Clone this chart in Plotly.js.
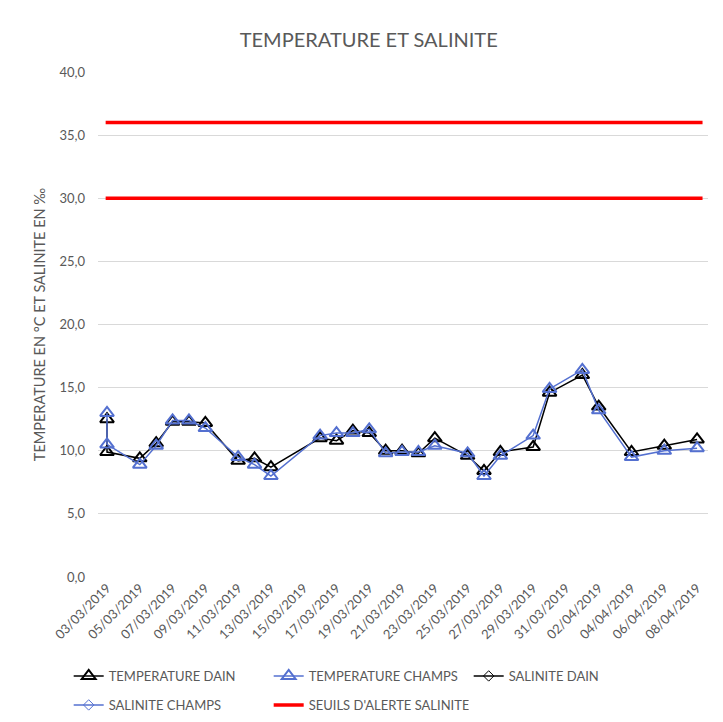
<!DOCTYPE html>
<html>
<head>
<meta charset="utf-8">
<script src="https://cdn.plot.ly/plotly-3.0.1.min.js"></script>
<style>html,body{margin:0;padding:0;background:#fff;}#chart{width:723px;height:722px;}</style>
</head>
<body>
<div id="chart"></div>
<script>
const dates = ["2019-03-03","2019-03-03","2019-03-05","2019-03-06","2019-03-07","2019-03-08","2019-03-09","2019-03-11","2019-03-12","2019-03-13","2019-03-16","2019-03-17","2019-03-18","2019-03-19","2019-03-20","2019-03-21","2019-03-22","2019-03-23","2019-03-25","2019-03-26","2019-03-27","2019-03-29","2019-03-30","2019-04-01","2019-04-02","2019-04-04","2019-04-06","2019-04-08"];
const temperatureDain = [12.5,9.9,9.4,10.6,12.3,12.3,12.2,9.2,9.4,8.7,11.0,10.8,11.6,11.4,10.0,10.0,9.8,11.0,9.6,8.4,9.9,10.3,14.6,16.0,13.5,9.9,10.4,10.9];
const temperatureChamps = [13.0,10.5,8.9,10.4,12.4,12.4,11.8,9.5,8.9,8.0,11.2,11.4,11.4,11.7,9.8,9.9,9.9,10.4,9.8,8.0,9.6,11.2,14.9,16.4,13.2,9.5,10.0,10.2];
const saliniteDain = dates.map(() => null);
const saliniteChamps = dates.map(() => null);
const seuils = [30, 36];
const seuilDates = ["2019-03-02 22:00", "2019-04-08 08:00"];

const grey = "#595959";
const blue = "#5470d0";
const font = "Lato, Open Sans, sans-serif";

const seuilX = [], seuilY = [];
seuils.forEach((s, i) => {
  if (i > 0) { seuilX.push(null); seuilY.push(null); }
  seuilDates.forEach(d => { seuilX.push(d); seuilY.push(s); });
});

const traces = [
  {x: dates, y: temperatureDain, name: "TEMPERATURE DAIN", type: "scatter", mode: "lines+markers", legend: "legend",
   line: {color: "#000000", width: 1.5}, marker: {symbol: "triangle-up-open", size: 12, color: "#000000", line: {width: 2, color: "#000000"}}},
  {x: dates, y: temperatureChamps, name: "TEMPERATURE CHAMPS", type: "scatter", mode: "lines+markers", legend: "legend",
   line: {color: blue, width: 1.5}, marker: {symbol: "triangle-up-open", size: 12, color: blue, line: {width: 2, color: blue}}},
  {x: dates, y: saliniteDain, name: "SALINITE DAIN", type: "scatter", mode: "lines+markers", legend: "legend",
   line: {color: "#000000", width: 1.5}, marker: {symbol: "diamond-open", size: 8, color: "#000000", line: {width: 1, color: "#000000"}}},
  {x: dates, y: saliniteChamps, name: "SALINITE CHAMPS", type: "scatter", mode: "lines+markers", legend: "legend2",
   line: {color: blue, width: 1.5}, marker: {symbol: "diamond-open", size: 8, color: blue, line: {width: 1, color: blue}}},
  {x: seuilX, y: seuilY, name: "SEUILS D'ALERTE SALINITE", type: "scatter", mode: "lines", legend: "legend2",
   line: {color: "#ff0000", width: 3.5}}
];

const legendCommon = {
  orientation: "h", xref: "container", yref: "container",
  xanchor: "left", yanchor: "middle",
  entrywidth: 155, entrywidthmode: "pixels",
  font: {family: font, size: 13, color: grey},
  tracegroupgap: 0, itemwidth: 30, bgcolor: "rgba(0,0,0,0)"
};

const layout = {
  width: 723, height: 722,
  margin: {l: 98, r: 15, t: 72, b: 145},
  paper_bgcolor: "#ffffff", plot_bgcolor: "#ffffff",
  separators: ", ",
  font: {family: font, color: grey, size: 12},
  title: {text: "TEMPERATURE ET SALINITE", font: {family: font, size: 20, color: grey}, x: 0.51, xanchor: "center", y: 0.945, yanchor: "middle"},
  xaxis: {
    type: "date",
    range: ["2019-03-02 10:48", "2019-04-08 16:00"],
    tick0: "2019-03-03", dtick: 2 * 86400000,
    tickformat: "%d/%m/%Y", tickangle: -45,
    showgrid: false, zeroline: false, showline: false,
    tickfont: {family: font, size: 13, color: grey}
  },
  yaxis: {
    range: [0, 40], dtick: 5, tickformat: ".1f",
    showgrid: true, gridcolor: "#d9d9d9", gridwidth: 1,
    zeroline: false, showline: false, ticks: "",
    tickfont: {family: font, size: 13, color: grey},
    ticklabelstandoff: 12,
    title: {text: "TEMPERATURE EN °C ET SALINITE EN ‰", font: {family: font, size: 14.5, color: grey}, standoff: 10}
  },
  showlegend: true,
  legend: Object.assign({}, legendCommon, {x: 0.095, y: 1 - 676 / 722}),
  legend2: Object.assign({}, legendCommon, {x: 0.095, y: 1 - 705 / 722})
};

Plotly.newPlot("chart", traces, layout, {staticPlot: true, displayModeBar: false});
</script>
</body>
</html>
